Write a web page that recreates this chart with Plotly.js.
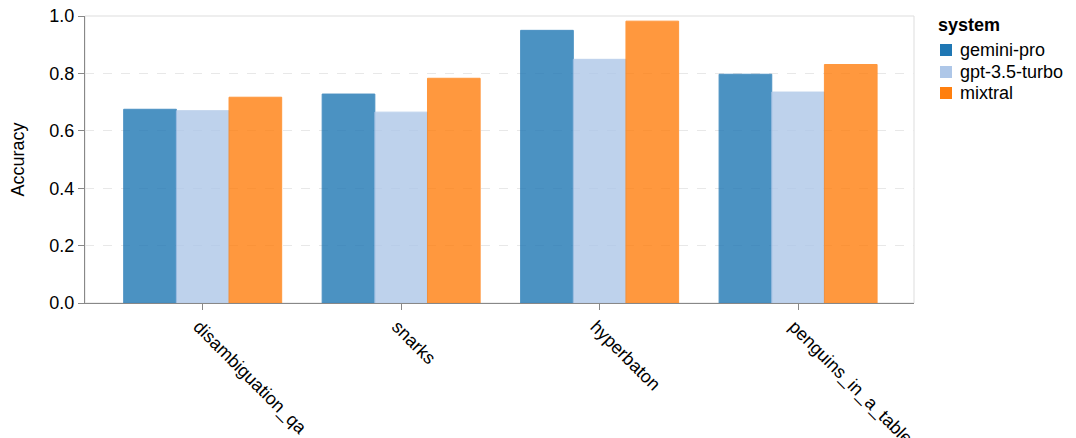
<!DOCTYPE html>
<html><head><meta charset="utf-8">
<script src="https://cdn.plot.ly/plotly-3.0.1.min.js"></script>
<style>html,body{margin:0;padding:0;background:#fff}#c{width:1076px;height:438px}</style>
</head><body><div id="c"></div>
<script>
const categories = ["disambiguation_qa", "snarks", "hyperbaton", "penguins_in_a_table"];
const systems = ["gemini-pro", "gpt-3.5-turbo", "mixtral"];
const geminiPro = [0.675, 0.728, 0.950, 0.797];
const gpt35Turbo = [0.670, 0.665, 0.849, 0.735];
const mixtral = [0.717, 0.783, 0.982, 0.831];
const yTicks = [0, 0.2, 0.4, 0.6, 0.8, 1.0];
const yTickLabels = ["0.0", "0.2", "0.4", "0.6", "0.8", "1.0"];

const colors = ["#1f77b4", "#aec7e8", "#ff7f0e"];
const series = [geminiPro, gpt35Turbo, mixtral];
const font = "Liberation Sans, Arial, Helvetica, sans-serif";
const FS = 18;

const W = 1076, H = 438, mL = 85, mR = 162, mT = 16, mB = 135;
const pw = W - mL - mR, ph = H - mT - mB;
const px = x => (x - mL) / pw;
const py = y => (H - mB - y) / ph;

const traces = series.map((vals, i) => ({
  type: "bar", name: systems[i], x: categories, y: vals,
  marker: {color: colors[i], opacity: 0.8, line: {width: 1, color: colors[i]}},
  hoverinfo: "skip", showlegend: false
}));

const shapes = [{type: "rect", xref: "paper", yref: "paper", x0: 0, x1: 1, y0: 0, y1: 1,
                 line: {color: "#dddddd", width: 1}, layer: "below"}];
const annotations = [
  {text: "Accuracy", textangle: -90, xref: "paper", yref: "paper", x: px(17), y: 0.5,
   xanchor: "center", yanchor: "middle", showarrow: false, font: {size: FS, family: font}},
  {text: "<b>system</b>", xref: "paper", yref: "paper", x: px(936), y: py(25),
   xanchor: "left", yanchor: "middle", showarrow: false, font: {size: FS, family: font}}
];
const legendY = [50, 72, 93];
systems.forEach((s, i) => {
  shapes.push({type: "rect", xref: "paper", yref: "paper",
    x0: px(940), x1: px(952), y0: py(legendY[i] - 6), y1: py(legendY[i] + 6),
    fillcolor: colors[i], line: {width: 0}});
  annotations.push({text: s, xref: "paper", yref: "paper", x: px(958), y: py(legendY[i]),
    xanchor: "left", yanchor: "middle", showarrow: false, font: {size: FS, family: font}});
});

const layout = {
  width: W, height: H,
  margin: {l: mL, r: mR, t: mT, b: mB},
  paper_bgcolor: "#fff", plot_bgcolor: "#fff",
  font: {family: font, size: FS, color: "#000"},
  barmode: "group", bargap: 0.204, bargroupgap: 0,
  xaxis: {
    type: "category", range: [-0.593, 3.584],
    tickangle: 45, ticks: "outside", ticklen: 6, tickcolor: "#888",
    ticklabelshift: -4, ticklabelstandoff: -1,
    showline: true, linecolor: "#888", linewidth: 1,
    showgrid: false, tickfont: {size: FS, family: font}, automargin: false
  },
  yaxis: {
    range: [0, 1.0], tickvals: yTicks, ticktext: yTickLabels,
    ticks: "outside", ticklen: 6, tickcolor: "#888",
    showline: true, linecolor: "#888", linewidth: 1,
    showgrid: true, gridcolor: "#e8e8e8", griddash: "dash", gridwidth: 1,
    zeroline: false, tickfont: {size: FS, family: font},
    automargin: false
  },
  shapes: shapes, annotations: annotations,
  showlegend: false
};

Plotly.newPlot("c", traces, layout, {staticPlot: true, displayModeBar: false});
</script>
</body></html>
